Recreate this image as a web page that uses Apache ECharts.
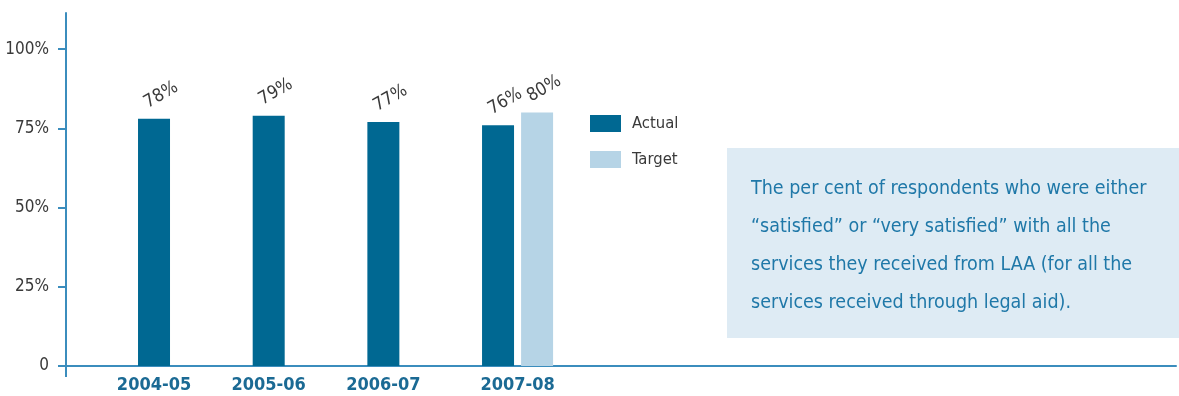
<!DOCTYPE html>
<html>
<head>
<meta charset="utf-8">
<title>Client satisfaction</title>
<script src="https://cdn.jsdelivr.net/npm/echarts@6/dist/echarts.min.js"></script>
<style>
  html, body { margin: 0; padding: 0; background: #ffffff; }
  #chart { width: 1179px; height: 396px; }
</style>
</head>
<body>
<div id="chart"></div>
<script>
// Fiscal years and satisfaction results (per cent)
const categories = ['2004-05', '2005-06', '2006-07', '2007-08'];
const actualValues = [78, 79, 77, 76];
const targetValues = [null, null, null, 80];
const yTickValues = [0, 25, 50, 75, 100];
const seriesNames = ['Actual', 'Target'];
const noteLines = [
  'The per cent of respondents who were either',
  '\u201Csatisfied\u201D or \u201Cvery satisfied\u201D with all the',
  'services they received from LAA (for all the',
  'services received through legal aid).'
];

const FONT = '"Liberation Sans Narrow", "DejaVu Sans Condensed", "Roboto", sans-serif';
const AXIS_COLOR = '#3b8dbd';
const ACTUAL_COLOR = '#006892';
const TARGET_COLOR = '#b6d4e6';
const Y_MAX = 111.4;

const chart = echarts.init(document.getElementById('chart'), null, { renderer: 'canvas' });

const plotTop = 13;
const plotBottom = 30;

const valueLabel = {
  show: true,
  position: 'top',
  distance: 0,
  rotate: 30,
  align: 'left',
  verticalAlign: 'bottom',
  offset: [0, -8],
  formatter: '{c}%',
  fontFamily: FONT,
  fontSize: 18,
  color: '#3a3a3a'
};

chart.setOption({
  animation: false,
  backgroundColor: '#ffffff',
  textStyle: { fontFamily: FONT },
  grid: [
    // frame: full-width axes
    { left: 66, right: 3, top: plotTop, bottom: plotBottom, containLabel: false },
    // bars area
    { left: 116.2, right: 604.1, top: plotTop, bottom: plotBottom, containLabel: false }
  ],
  xAxis: [
    {
      gridIndex: 0,
      type: 'value',
      min: 0,
      max: 1,
      axisLine: { show: true, lineStyle: { color: AXIS_COLOR, width: 2 } },
      axisTick: { show: true, customValues: [0], length: 11, lineStyle: { color: AXIS_COLOR, width: 2 } },
      axisLabel: { show: false },
      splitLine: { show: false }
    },
    {
      gridIndex: 1,
      type: 'category',
      data: categories,
      axisLine: { show: false },
      axisTick: { show: false },
      axisLabel: {
        margin: 10,
        interval: 0,
        formatter: function (value, index) {
          return index < categories.length - 1 ? '{shift|' + value + '}' : '{plain|' + value + '}';
        },
        rich: {
          shift: { fontFamily: FONT, fontSize: 18, fontWeight: 'bold', color: '#1b6a94', padding: [0, 39, 0, 0] },
          plain: { fontFamily: FONT, fontSize: 18, fontWeight: 'bold', color: '#1b6a94' }
        }
      }
    }
  ],
  yAxis: [
    {
      gridIndex: 0,
      type: 'value',
      min: 0,
      max: Y_MAX,
      axisLine: { show: true, lineStyle: { color: AXIS_COLOR, width: 2 } },
      axisTick: { show: true, customValues: yTickValues, length: 8, lineStyle: { color: AXIS_COLOR, width: 2 } },
      axisLabel: {
        customValues: yTickValues,
        margin: 17,
        fontFamily: FONT,
        fontSize: 17,
        color: '#3a3a3a',
        formatter: function (v) { return v === 0 ? '0' : v + '%'; }
      },
      splitLine: { show: false }
    },
    {
      gridIndex: 1,
      type: 'value',
      min: 0,
      max: Y_MAX,
      show: false,
      splitLine: { show: false }
    }
  ],
  legend: {
    orient: 'vertical',
    left: 590,
    top: 115,
    padding: 0,
    itemWidth: 31,
    itemHeight: 17,
    itemGap: 19,
    icon: 'rect',
    data: seriesNames,
    textStyle: { fontFamily: FONT, fontSize: 16.5, color: '#3a3a3a', padding: [0, 0, 0, 6] }
  },
  series: [
    {
      name: seriesNames[0],
      type: 'bar',
      xAxisIndex: 1,
      yAxisIndex: 1,
      data: actualValues,
      barWidth: 32,
      barGap: '22%',
      itemStyle: { color: ACTUAL_COLOR },
      label: valueLabel
    },
    {
      name: seriesNames[1],
      type: 'bar',
      xAxisIndex: 1,
      yAxisIndex: 1,
      data: targetValues,
      barWidth: 32,
      barGap: '22%',
      itemStyle: { color: TARGET_COLOR },
      label: valueLabel
    }
  ],
  graphic: [
    {
      type: 'group',
      left: 727,
      top: 148,
      children: [
        {
          type: 'rect',
          shape: { x: 0, y: 0, width: 452, height: 190 },
          style: { fill: '#deebf4' }
        },
        {
          type: 'text',
          x: 24,
          y: 21.5,
          style: {
            text: noteLines.join('\n'),
            fontFamily: FONT,
            fontSize: 19.5,
            lineHeight: 38,
            fill: '#1f78a8',
            verticalAlign: 'top',
            align: 'left'
          }
        }
      ]
    }
  ]
});
</script>
</body>
</html>
